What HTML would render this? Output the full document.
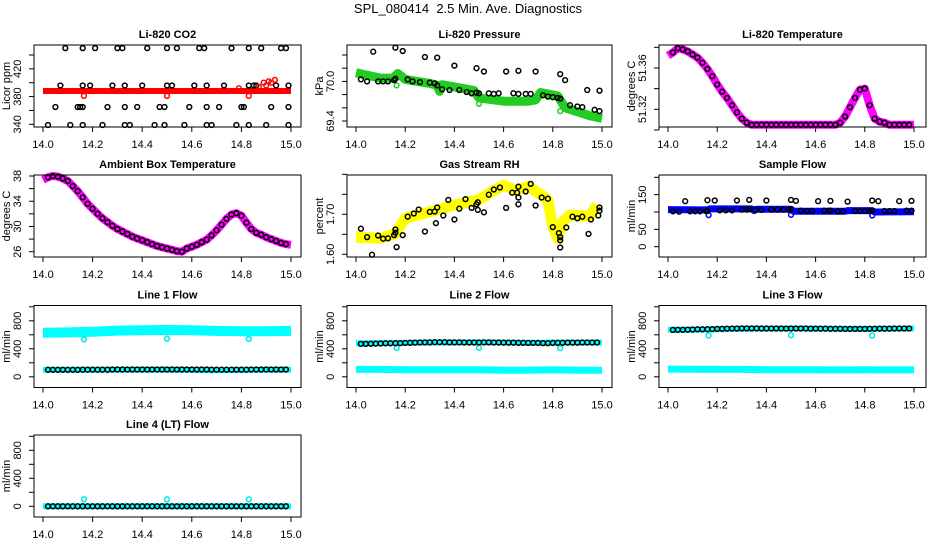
<!DOCTYPE html>
<html><head><meta charset="utf-8">
<style>
html,body{margin:0;padding:0;background:#fff;}
svg{display:block;font-family:"Liberation Sans",Arial,sans-serif;}
</style></head>
<body>
<svg id="chart" width="936" height="540" viewBox="0 0 936 540" xmlns="http://www.w3.org/2000/svg">
<rect x="0" y="0" width="936" height="540" fill="#fff"/>
<text x="468" y="13" text-anchor="middle" font-size="13" fill="#000" style="white-space:pre">SPL_080414  2.5 Min. Ave. Diagnostics</text>
</svg>
<script>
// ---- shared data ----
const xTicks = [14.0, 14.2, 14.4, 14.6, 14.8, 15.0];
const xTickLabels = ["14.0", "14.2", "14.4", "14.6", "14.8", "15.0"];
const T = [14.02,14.04,14.06,14.08,14.10,14.12,14.14,14.16,14.18,14.20,14.22,14.24,14.26,14.28,14.30,14.32,14.34,14.36,14.38,14.40,14.42,14.44,14.46,14.48,14.50,14.52,14.54,14.56,14.58,14.60,14.62,14.64,14.66,14.68,14.70,14.72,14.74,14.76,14.78,14.80,14.82,14.84,14.86,14.88,14.90,14.92,14.94,14.96,14.98];
const bandT = [14.0,14.1,14.2,14.3,14.4,14.5,14.6,14.7,14.8,14.9,15.0];

// CO2
const co2BandT = [14.0, 15.0];
const co2BandV = [388, 388];
const co2BlackT = [14.09,14.16,14.21,14.30,14.32,14.42,14.50,14.54,14.63,14.65,14.76,14.83,14.88,14.96,14.98,
 14.07,14.16,14.19,14.28,14.33,14.40,14.50,14.52,14.61,14.66,14.73,14.83,14.85,14.86,14.94,14.99,
 14.05,14.14,14.15,14.16,14.26,14.33,14.38,14.47,14.49,14.59,14.66,14.71,14.80,14.81,14.92,14.99,
 14.02,14.11,14.16,14.24,14.33,14.35,14.45,14.49,14.57,14.66,14.68,14.78,14.83,14.90,14.99];
const co2BlackV = [450,450,450,450,450,450,450,450,450,450,450,450,450,450,450,
 396,396,396,396,396,396,396,396,396,396,396,396,396,396,396,396,
 365,365,365,365,365,365,365,365,365,365,365,365,365,365,365,365,
 339,339,339,339,339,339,339,339,339,339,339,339,339,339,339];
const co2RedT = [14.165,14.50,14.83,14.79,14.87,14.89,14.90,14.91,14.92,14.935];
const co2RedV = [381,381,381,392,394,400,396,402,400,404];

// Pressure
const presBandT = [14.0,14.1,14.15,14.17,14.2,14.3,14.33,14.34,14.35,14.48,14.5,14.6,14.7,14.73,14.75,14.82,14.85,14.95,15.0];
const presBandV = [70.13,70.05,70.05,70.12,70.03,69.97,69.94,69.85,69.95,69.86,69.75,69.70,69.70,69.72,69.83,69.78,69.60,69.48,69.44];
const presBlackT = [14.07,14.16,14.19,14.28,14.33,14.40,14.49,14.52,14.61,14.66,14.73,14.83,14.85,14.94,14.99,
 14.02,14.045,14.09,14.11,14.13,14.155,14.16,14.21,14.23,14.26,14.30,14.32,14.33,14.35,14.38,14.42,14.45,14.47,14.49,14.50,14.54,14.56,14.58,14.64,14.66,14.69,14.71,14.76,14.78,14.80,14.82,14.83,14.87,14.90,14.92,14.97,14.99];
const presBlackV = [70.45,70.51,70.46,70.37,70.36,70.24,70.20,70.15,70.15,70.16,70.15,70.11,70.02,69.87,69.86,
 70.03,70.00,70.00,70.00,70.00,70.02,70.04,70.03,70.00,69.99,69.98,69.97,69.94,69.88,69.87,69.87,69.84,69.82,69.83,69.82,69.82,69.81,69.82,69.82,69.81,69.81,69.81,69.79,69.77,69.76,69.75,69.74,69.64,69.62,69.61,69.57,69.55];
const presGreenT = [14.165,14.50,14.83];
const presGreenV = [69.94,69.66,69.55];

// Li-820 temperature
const tempBandT = [14.0,14.02,14.04,14.06,14.08,14.10,14.12,14.14,14.16,14.18,14.20,14.22,14.24,14.26,14.28,14.30,14.32,14.34,14.68,14.70,14.72,14.74,14.76,14.78,14.80,14.82,14.84,14.86,14.88,14.90,15.0];
const tempBandV = [51.372,51.375,51.379,51.378,51.376,51.373,51.370,51.365,51.359,51.352,51.344,51.337,51.331,51.324,51.317,51.311,51.307,51.305,51.305,51.307,51.313,51.322,51.331,51.339,51.340,51.324,51.311,51.308,51.307,51.305,51.305];
const tempBlackV = [51.375,51.379,51.378,51.376,51.373,51.370,51.365,51.359,51.352,51.344,51.337,51.331,51.324,51.317,51.311,51.307,51.305,51.305,51.305,51.305,51.305,51.305,51.305,51.305,51.305,51.305,51.305,51.305,51.305,51.305,51.305,51.305,51.305,51.305,51.307,51.313,51.322,51.331,51.339,51.340,51.324,51.311,51.308,51.307,51.305,51.305,51.305,51.305,51.305];

// Ambient box temperature
const ambBandT = [14.0,14.02,14.04,14.06,14.08,14.10,14.12,14.14,14.16,14.18,14.20,14.22,14.24,14.26,14.28,14.30,14.32,14.34,14.36,14.38,14.40,14.42,14.44,14.46,14.48,14.50,14.52,14.54,14.56,14.58,14.60,14.62,14.64,14.66,14.68,14.70,14.72,14.74,14.76,14.78,14.80,14.82,14.84,14.86,14.88,14.90,14.92,14.94,14.96,14.98,15.0];
const ambBandV = [37.4,37.8,38.0,37.9,37.6,37.2,36.4,35.6,34.6,33.6,32.8,32.0,31.3,30.7,30.1,29.6,29.2,28.8,28.4,28.1,27.8,27.5,27.2,26.9,26.7,26.5,26.3,26.1,26.0,26.5,26.8,27.1,27.5,27.9,28.6,29.4,30.3,31.2,31.9,32.1,31.7,30.6,29.6,29.0,28.7,28.3,28.0,27.7,27.4,27.2,27.1];
const ambBlackV = [37.8,38.0,37.9,37.6,37.2,36.4,35.6,34.6,33.6,32.8,32.0,31.3,30.7,30.1,29.6,29.2,28.8,28.4,28.1,27.8,27.5,27.2,26.9,26.7,26.5,26.3,26.1,26.0,26.5,26.8,27.1,27.5,27.9,28.6,29.4,30.3,31.2,31.9,32.1,31.7,30.6,29.6,29.0,28.7,28.3,28.0,27.7,27.4,27.2];

// Gas stream RH
const rhBandT = [14.0,14.1,14.16,14.2,14.3,14.4,14.5,14.55,14.6,14.65,14.7,14.75,14.78,14.80,14.82,14.84,14.87,14.95,14.98];
const rhBandV = [1.643,1.640,1.652,1.690,1.706,1.723,1.736,1.756,1.773,1.760,1.770,1.750,1.735,1.669,1.640,1.681,1.698,1.695,1.723];
const rhBlackT = [14.02,14.045,14.065,14.09,14.11,14.13,14.155,14.16,14.16,14.165,14.19,14.21,14.235,14.255,14.28,14.30,14.32,14.325,14.33,14.355,14.375,14.40,14.42,14.445,14.47,14.49,14.495,14.495,14.52,14.54,14.56,14.585,14.61,14.635,14.655,14.66,14.66,14.66,14.69,14.71,14.73,14.755,14.78,14.80,14.825,14.83,14.83,14.83,14.855,14.88,14.90,14.92,14.945,14.955,14.985,14.99,14.99];
const rhBlackV = [1.664,1.643,1.599,1.647,1.639,1.640,1.648,1.662,1.654,1.618,1.648,1.694,1.702,1.712,1.657,1.706,1.707,1.678,1.717,1.697,1.736,1.687,1.714,1.738,1.716,1.725,1.730,1.711,1.705,1.749,1.762,1.767,1.716,1.754,1.754,1.769,1.742,1.725,1.757,1.776,1.722,1.742,1.739,1.668,1.653,1.643,1.635,1.617,1.667,1.694,1.690,1.694,1.651,1.687,1.697,1.717,1.709];

// Sample flow
const sfBandT = [14.0,14.16,14.17,14.34,14.35,14.36,14.5,14.51,14.72,14.73,14.83,14.84,15.0];
const sfBandV = [107,106,109,109,104,108,108,102,102,104,104,100,101];
const sfBlackT = [14.07,14.16,14.19,14.28,14.33,14.40,14.50,14.52,14.61,14.66,14.73,14.83,14.855,14.94,14.99,
 14.02,14.045,14.09,14.11,14.13,14.155,14.16,14.21,14.235,14.26,14.30,14.32,14.33,14.355,14.38,14.42,14.445,14.47,14.49,14.50,14.54,14.565,14.585,14.635,14.655,14.66,14.69,14.71,14.76,14.78,14.80,14.82,14.83,14.88,14.90,14.92,14.97,14.99];
const sfBlackV = [131,134,133,133,135,133,135,132,131,132,130,133,131,131,132,
 102,101,102,102,102,103,103,105,105,105,107,107,108,106,106,107,107,107,107,108,104,103,103,104,104,104,102,102,103,103,103,103,104,103,103,103,104,104];
const sfBlueT = [14.165,14.50,14.83];
const sfBlueV = [91,92,90];

// Line flows
const l1UpperV = [630,635,645,660,665,668,665,655,650,652,655];
const l1LowerV = [100,100,100,100,100,100,98,95,98,100,100];
const l1BlackV = [100,100,100,100,100,100,100,102,102,102,102,102,102,104,104,104,104,104,104,104,104,104,104,104,104,104,104,104,104,104,104,104,104,102,102,102,102,102,102,102,102,104,104,104,104,104,104,104,104];
const l1OutT = [14.165,14.50,14.83];
const l1OutV = [535,545,540];

const l2UpperV = [480,482,485,490,492,492,490,485,488,490,490];
const l2LowerV = [105,105,100,100,100,100,95,95,100,95,95];
const l2BlackV = [470,470,472,474,476,478,478,480,482,484,486,488,490,492,492,494,494,494,492,492,492,490,490,490,490,492,492,490,490,488,488,488,486,486,484,484,484,482,482,484,486,486,488,488,488,490,490,490,490];
const l2OutT = [14.165,14.50,14.83];
const l2OutV = [410,415,410];

const l3UpperV = [670,672,678,685,688,690,688,686,684,688,690];
const l3LowerV = [110,108,105,105,102,100,100,98,100,98,98];
const l3BlackV = [670,672,672,674,676,678,678,680,682,684,686,688,690,690,692,692,692,692,690,690,690,690,690,688,690,690,690,690,688,688,688,688,686,686,686,684,684,684,684,684,686,686,688,688,688,690,690,690,690];
const l3OutT = [14.165,14.50,14.83];
const l3OutV = [590,595,590];

const l4BandV = [0,0,0,0,0,0,0,0,0,0,0];
const l4BlackV = [0,0,0,0,0,0,0,0,0,0,0,0,0,0,0,0,0,0,0,0,0,0,0,0,0,0,0,0,0,0,0,0,0,0,0,0,0,0,0,0,0,0,0,0,0,0,0,0,0];
const l4OutT = [14.165,14.50,14.83];
const l4OutV = [100,100,100];

// ---- rendering ----
const NS = "http://www.w3.org/2000/svg";
const svg = document.getElementById("chart");
const colL = [34, 347, 659], colR = [301, 612, 926], colX14 = [43, 356, 668], colX15 = [291, 602, 914];
const rowTop = [45, 175, 305.5, 435];
const BOXH = 82;

function mk(tag, attrs, parent) {
  const e = document.createElementNS(NS, tag);
  for (const k in attrs) e.setAttribute(k, attrs[k]);
  (parent || svg).appendChild(e);
  return e;
}

function fmt(v, d) { return v.toFixed(d); }

function panel(cfg) {
  const g = mk("g", {});
  
  
  const c = cfg.col, r = cfg.row;
  const L = colL[c], R = colR[c], top = rowTop[r], bot = top + BOXH;
  const xs = t => colX14[c] + (t - 14) * (colX15[c] - colX14[c]);
  const [vA, oA, vB, oB] = cfg.ymap;
  const ys = v => top + oA + (v - vA) * (oB - oA) / (vB - vA);

  const tt = mk("text", {x: (L + R) / 2, y: top - 7, "text-anchor": "middle", "font-size": "11", "font-weight": "bold"}, g);
  tt.textContent = cfg.title;
  
  

  const xa = mk("g", {}, g);
  
  
  mk("line", {x1: xs(xTicks[0]), x2: xs(xTicks[xTicks.length - 1]), y1: bot, y2: bot, stroke: "#000"}, xa);
  xTicks.forEach((t, i) => {
    mk("line", {x1: xs(t), x2: xs(t), y1: bot, y2: bot + 5, stroke: "#000"}, xa);
    const lb = mk("text", {x: xs(t), y: bot + 21, "text-anchor": "middle", "font-size": "11"}, xa);
    lb.textContent = xTickLabels[i];
    
    
  });

  const ya = mk("g", {}, g);
  
  
  const yt = cfg.yticks;
  mk("line", {x1: L, x2: L, y1: ys(yt[0]), y2: ys(yt[yt.length - 1]), stroke: "#000"}, ya);
  yt.forEach(v => {
    mk("line", {x1: L - 5, x2: L, y1: ys(v), y2: ys(v), stroke: "#000"}, ya);
  });
  cfg.ylabels.forEach(v => {
    const yy = ys(v), xx = L - 13;
    const lb = mk("text", {x: xx, y: yy, "text-anchor": "middle", "font-size": "11", transform: `rotate(-90 ${xx} ${yy})`}, ya);
    lb.textContent = fmt(v, cfg.dec);
    
    
  });
  const yx = L - 24, yy = (top + bot) / 2;
  const yl = mk("text", {x: yx, y: yy, "text-anchor": "middle", "font-size": "11", transform: `rotate(-90 ${yx} ${yy})`}, ya);
  yl.textContent = cfg.ytitle;
  
  

  (cfg.bands || []).forEach(b => {
    const pts = b.t.map((t, i) => xs(t).toFixed(1) + "," + ys(b.v[i]).toFixed(1)).join(" ");
    const pl = mk("polyline", {points: pts, fill: "none", stroke: b.color, "stroke-width": b.w, "stroke-linejoin": "round", "stroke-linecap": "butt"}, g);
    
    
  });
  (cfg.points || []).forEach(p => {
    const pg = mk("g", {}, g);
    
    
    p.t.forEach((t, i) => {
      const ci = mk("circle", {cx: xs(t).toFixed(1), cy: ys(p.v[i]).toFixed(1), r: 2.4, fill: "none", stroke: p.color, "stroke-width": 1.5}, pg);
      
      
    });
  });

  const bx = mk("rect", {x: L, y: top, width: R - L, height: BOXH, fill: "none", stroke: "#000"}, g);
  
  
}

const flowTicks = [0, 200, 400, 600, 800, 1000];
const flowLabels = [0, 400, 800];
const flowMap = [1000, 1.3, 0, 71.3];

panel({name: "panel-co2", title: "Li-820 CO2", col: 0, row: 0, ymap: [440, 10, 340, 79.3], yticks: [340,360,380,400,420,440], ylabels: [340,380,420], dec: 0, ytitle: "Licor ppm",
  bands: [{name: "co2-band", t: co2BandT, v: co2BandV, color: "#ff0000", w: 6}],
  points: [{name: "co2-black-points", t: co2BlackT, v: co2BlackV, color: "#000"}, {name: "co2-red-points", t: co2RedT, v: co2RedV, color: "#ff0000"}]});

panel({name: "panel-pressure", title: "Li-820 Pressure", col: 1, row: 0, ymap: [70.4, 10, 69.4, 76], yticks: [69.4,69.6,69.8,70.0,70.2,70.4], ylabels: [69.4,70.0], dec: 1, ytitle: "kPa",
  bands: [{name: "pressure-band", t: presBandT, v: presBandV, color: "#22cc22", w: 9}],
  points: [{name: "pressure-green-points", t: presGreenT, v: presGreenV, color: "#22cc22"}, {name: "pressure-black-points", t: presBlackT, v: presBlackV, color: "#000"}]});

panel({name: "panel-li820-temp", title: "Li-820 Temperature", col: 2, row: 0, ymap: [51.38, 2.3, 51.32, 64.3], yticks: [51.30,51.32,51.34,51.36,51.38], ylabels: [51.32,51.36], dec: 2, ytitle: "degrees C",
  bands: [{name: "li820-temp-band", t: tempBandT, v: tempBandV, color: "#ff00ff", w: 8}],
  points: [{name: "li820-temp-points", t: T, v: tempBlackV, color: "#000"}]});

panel({name: "panel-ambient-temp", title: "Ambient Box Temperature", col: 0, row: 1, ymap: [38, 1, 26, 76.7], yticks: [26,28,30,32,34,36,38], ylabels: [26,30,34,38], dec: 0, ytitle: "degrees C",
  bands: [{name: "ambient-temp-band", t: ambBandT, v: ambBandV, color: "#ff00ff", w: 8}],
  points: [{name: "ambient-temp-points", t: T, v: ambBlackV, color: "#000"}]});

panel({name: "panel-rh", title: "Gas Stream RH", col: 1, row: 1, ymap: [1.80, -0.7, 1.60, 79.3], yticks: [1.60,1.65,1.70,1.75,1.80], ylabels: [1.60,1.70], dec: 2, ytitle: "percent",
  bands: [{name: "rh-band", t: rhBandT, v: rhBandV, color: "#ffff00", w: 11}],
  points: [{name: "rh-black-points", t: rhBlackT, v: rhBlackV, color: "#000"}]});

panel({name: "panel-sample-flow", title: "Sample Flow", col: 2, row: 1, ymap: [200, 2.3, 0, 71.7], yticks: [0,50,100,150,200], ylabels: [0,50,150], dec: 0, ytitle: "ml/min",
  bands: [{name: "sample-flow-band", t: sfBandT, v: sfBandV, color: "#0000ff", w: 7}],
  points: [{name: "sample-flow-blue-points", t: sfBlueT, v: sfBlueV, color: "#0000ff"}, {name: "sample-flow-black-points", t: sfBlackT, v: sfBlackV, color: "#000"}]});

panel({name: "panel-line1-flow", title: "Line 1 Flow", col: 0, row: 2, ymap: flowMap, yticks: flowTicks, ylabels: flowLabels, dec: 0, ytitle: "ml/min",
  bands: [{name: "line1-upper-band", t: bandT, v: l1UpperV, color: "#00ffff", w: 10}, {name: "line1-lower-band", t: bandT, v: l1LowerV, color: "#00ffff", w: 6}],
  points: [{name: "line1-outliers", t: l1OutT, v: l1OutV, color: "#00e5e5"}, {name: "line1-black-points", t: T, v: l1BlackV, color: "#000"}]});

panel({name: "panel-line2-flow", title: "Line 2 Flow", col: 1, row: 2, ymap: flowMap, yticks: flowTicks, ylabels: flowLabels, dec: 0, ytitle: "ml/min",
  bands: [{name: "line2-upper-band", t: bandT, v: l2UpperV, color: "#00ffff", w: 6}, {name: "line2-lower-band", t: bandT, v: l2LowerV, color: "#00ffff", w: 7}],
  points: [{name: "line2-outliers", t: l2OutT, v: l2OutV, color: "#00e5e5"}, {name: "line2-black-points", t: T, v: l2BlackV, color: "#000"}]});

panel({name: "panel-line3-flow", title: "Line 3 Flow", col: 2, row: 2, ymap: flowMap, yticks: flowTicks, ylabels: flowLabels, dec: 0, ytitle: "ml/min",
  bands: [{name: "line3-upper-band", t: bandT, v: l3UpperV, color: "#00ffff", w: 6}, {name: "line3-lower-band", t: bandT, v: l3LowerV, color: "#00ffff", w: 7}],
  points: [{name: "line3-outliers", t: l3OutT, v: l3OutV, color: "#00e5e5"}, {name: "line3-black-points", t: T, v: l3BlackV, color: "#000"}]});

panel({name: "panel-line4-flow", title: "Line 4 (LT) Flow", col: 0, row: 3, ymap: flowMap, yticks: flowTicks, ylabels: flowLabels, dec: 0, ytitle: "ml/min",
  bands: [{name: "line4-band", t: bandT, v: l4BandV, color: "#00ffff", w: 6}],
  points: [{name: "line4-outliers", t: l4OutT, v: l4OutV, color: "#00e5e5"}, {name: "line4-black-points", t: T, v: l4BlackV, color: "#000"}]});
</script>
</body></html>
